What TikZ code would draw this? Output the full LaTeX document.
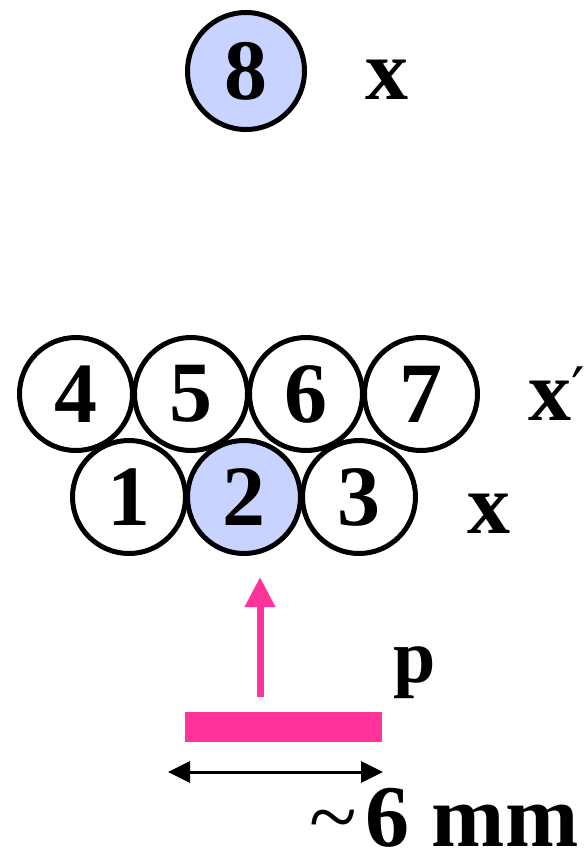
\documentclass[tikz,border=0pt]{standalone}
\usepackage{fontspec}
\setmainfont{Liberation Serif}
\newfontfamily\primefont{DejaVu Serif}
\usetikzlibrary{arrows.meta,positioning,calc}
\definecolor{ballblue}{HTML}{C8D4FF}
\definecolor{beampink}{HTML}{FF3399}
\tikzset{
  ball/.style={
    circle, draw=black, line width=5pt, fill=white,
    minimum size=113pt, inner sep=0pt,
    font=\fontsize{86}{90}\selectfont\bfseries
  },
  hitball/.style={ball, fill=ballblue},
  axislabel/.style={anchor=base west, inner sep=0pt, font=\fontsize{86}{90}\selectfont\bfseries},
  beam/.style={rectangle, fill=beampink, inner sep=0pt, minimum width=197pt, minimum height=30pt},
  beamarrow/.style={-{Triangle[length=30pt,width=29pt]}, line width=7pt, draw=beampink},
  dimarrow/.style={{Triangle[length=22pt,width=21pt]}-{Triangle[length=22pt,width=21pt]}, line width=3pt, draw=black}
}

\begin{document}
\begin{tikzpicture}[x=1pt,y=-1pt]
\useasboundingbox (0,0) rectangle (586,848);
\node[hitball, minimum size=117pt] (b8) at (246,71) {8};
\node[axislabel] (lx8) at (365,100) {x};
\node[ball] (b4) at (76,394) {4};
\node[ball] (b5) at (191,394) {5};
\node[ball] (b6) at (306,394) {6};
\node[ball] (b7) at (421,394) {7};
\node[axislabel] (lxp) at (528,420) {x\raisebox{10pt}{\mdseries\primefont\fontsize{60}{60}\selectfont ′}};
\node[ball] (b1) at (129,497) {1};
\node[hitball] (b2) at (244,497) {2};
\node[ball] (b3) at (359,497) {3};
\node[axislabel] (lx) at (467,533) {x};
\node[beam] (bar) at (283.5,727) {};
\node[axislabel, font=\fontsize{76}{80}\selectfont\bfseries] (lp) at (393,682) {p};
\coordinate (pbase) at (260,697);
\coordinate (ptip) at (260,577);
\draw[beamarrow] (pbase) -- (ptip);
\coordinate (dleft) at (168,772);
\coordinate (dright) at (383,772);
\draw[dimarrow] (dleft) -- (dright);
\node[axislabel, font=\fontsize{88}{92}\selectfont\bfseries] (width) at (309,846) {{\mdseries\textasciitilde}\hspace{9pt}6 mm};
\end{tikzpicture}
\end{document}
